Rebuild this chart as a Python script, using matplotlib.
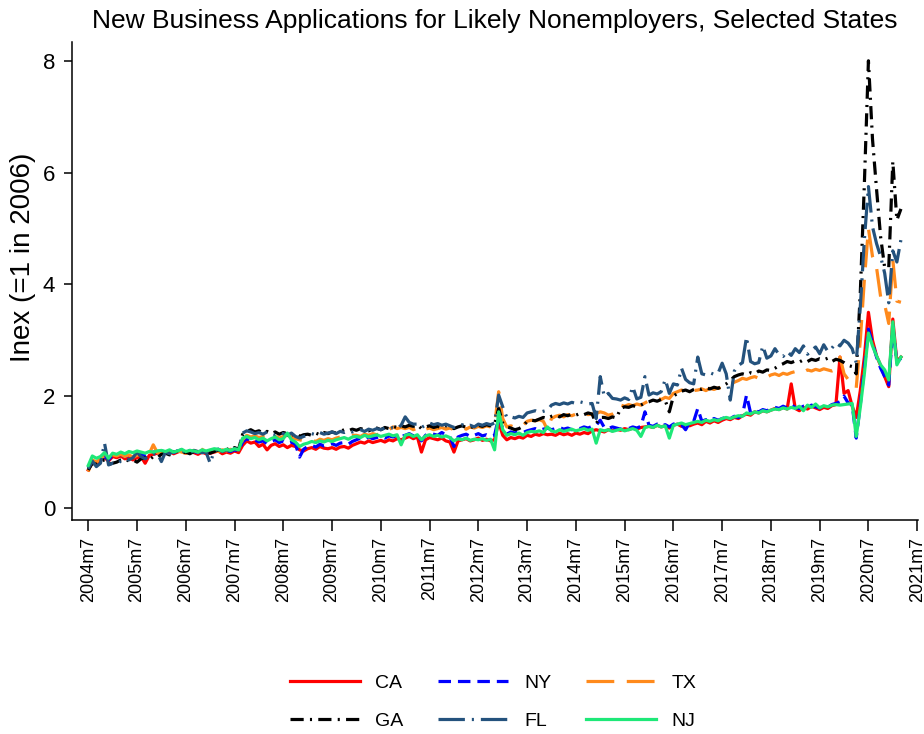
import pandas as pd
import matplotlib
matplotlib.use("Agg")
import matplotlib.pyplot as plt

# monthly index, 2004m7 .. 2021m3
months = pd.period_range("2004-07", "2021-03", freq="M")

# values (index, 2006 = 1), one row per calendar year
ca = [
    0.68, 0.82, 0.80, 0.86, 0.90, 0.84,
    0.92, 0.90, 0.93, 0.88, 0.90, 0.86, 0.90, 0.92, 0.80, 0.94, 0.96, 0.98,
    1.00, 0.98, 1.02, 0.97, 1.00, 1.03, 0.98, 1.01, 0.99, 0.96, 1.00, 0.97,
    0.98, 1.00, 1.02, 0.97, 1.00, 0.98, 1.02, 0.99, 1.12, 1.20, 1.16, 1.18,
    1.10, 1.14, 1.04, 1.12, 1.15, 1.10, 1.13, 1.08, 1.12, 1.10, 1.04, 1.02,
    1.06, 1.08, 1.05, 1.10, 1.07, 1.06, 1.08, 1.05, 1.09, 1.10, 1.07, 1.12,
    1.15, 1.18, 1.16, 1.20, 1.17, 1.19, 1.21, 1.18, 1.22, 1.20, 1.24, 1.22,
    1.25, 1.28, 1.24, 1.27, 1.00, 1.22, 1.26, 1.24, 1.22, 1.25, 1.20, 1.18,
    1.00, 1.20, 1.22, 1.24, 1.20, 1.22, 1.25, 1.21, 1.23, 1.20, 1.22, 1.54,
    1.30, 1.22, 1.26, 1.24, 1.27, 1.25, 1.30, 1.28, 1.32, 1.30, 1.33, 1.31,
    1.32, 1.30, 1.34, 1.31, 1.33, 1.30, 1.34, 1.32, 1.35, 1.33, 1.38, 1.40,
    1.38, 1.36, 1.40, 1.38, 1.41, 1.39, 1.42, 1.40, 1.43, 1.41, 1.44, 1.45,
    1.46, 1.44, 1.48, 1.45, 1.47, 1.43, 1.48, 1.50, 1.46, 1.49, 1.47, 1.50,
    1.52, 1.49, 1.55, 1.52, 1.56, 1.53, 1.57, 1.60, 1.58, 1.62, 1.60, 1.65,
    1.68, 1.66, 1.72, 1.70, 1.74, 1.72, 1.75, 1.78, 1.76, 1.80, 1.77, 2.22,
    1.78, 1.74, 1.80, 1.77, 1.82, 1.79, 1.76, 1.80, 1.78, 1.83, 1.85, 2.70,
    2.05, 2.10, 1.82, 1.62, 2.10, 2.70, 3.50, 3.00, 2.72, 2.55, 2.35, 2.17,
    3.38, 2.62, 2.70,
]
ny = [
    0.72, 0.84, 0.82, 0.88, 0.92, 0.86,
    0.95, 0.93, 0.96, 0.92, 0.94, 0.90, 0.96, 0.97, 0.93, 0.98, 1.00, 1.01,
    1.02, 1.00, 1.03, 0.99, 1.02, 1.04, 1.00, 1.03, 1.01, 0.99, 1.02, 1.00,
    1.01, 1.03, 1.05, 1.00, 1.03, 1.01, 1.04, 1.02, 1.18, 1.24, 1.20, 1.22,
    1.18, 1.20, 1.15, 1.19, 1.22, 1.17, 1.20, 1.16, 1.18, 1.14, 0.91, 1.05,
    1.10, 1.12, 1.09, 1.14, 1.11, 1.13, 1.15, 1.12, 1.16, 1.17, 1.14, 1.19,
    1.22, 1.25, 1.23, 1.27, 1.24, 1.26, 1.28, 1.25, 1.29, 1.27, 1.30, 1.28,
    1.30, 1.33, 1.29, 1.32, 1.20, 1.30, 1.34, 1.32, 1.30, 1.35, 1.31, 1.28,
    1.10, 1.27, 1.30, 1.32, 1.28, 1.30, 1.33, 1.29, 1.31, 1.28, 1.30, 1.63,
    1.42, 1.32, 1.36, 1.34, 1.37, 1.35, 1.38, 1.40, 1.42, 1.39, 1.41, 1.43,
    1.40, 1.42, 1.44, 1.41, 1.43, 1.40, 1.44, 1.42, 1.45, 1.43, 1.46, 1.48,
    1.57, 1.44, 1.42, 1.45, 1.43, 1.41, 1.44, 1.42, 1.45, 1.43, 1.46, 1.72,
    1.48, 1.46, 1.50, 1.47, 1.49, 1.45, 1.50, 1.52, 1.49, 1.40, 1.53, 1.55,
    1.78, 1.55, 1.58, 1.56, 1.60, 1.57, 1.60, 1.62, 1.60, 1.64, 1.62, 1.66,
    2.02, 1.70, 1.74, 1.72, 1.76, 1.74, 1.77, 1.80, 1.78, 1.82, 1.79, 1.84,
    1.80, 1.78, 1.82, 1.80, 1.84, 1.81, 1.79, 1.82, 1.80, 1.85, 1.87, 1.90,
    2.00, 1.88, 1.85, 1.25, 1.85, 2.50, 3.20, 2.95, 2.70, 2.50, 2.35, 2.20,
    3.25, 2.60, 2.68,
]
tx = [
    0.65, 0.86, 0.82, 0.88, 0.94, 0.86,
    0.95, 0.93, 0.96, 0.92, 0.95, 0.91, 0.94, 0.96, 0.93, 0.97, 1.13, 0.99,
    1.00, 0.98, 1.01, 0.99, 1.02, 1.00, 0.98, 1.01, 1.03, 1.00, 1.02, 1.16,
    1.00, 1.03, 1.01, 1.04, 1.02, 1.05, 1.03, 1.06, 1.22, 1.30, 1.27, 1.29,
    1.26, 1.28, 1.24, 1.27, 1.29, 1.25, 1.28, 1.30, 1.27, 1.24, 1.22, 1.20,
    1.20, 1.22, 1.19, 1.23, 1.21, 1.24, 1.22, 1.25, 1.27, 1.26, 1.28, 1.30,
    1.30, 1.28, 1.32, 1.30, 1.33, 1.31, 1.34, 1.36, 1.40, 1.45, 1.42, 1.44,
    1.42, 1.44, 1.40, 1.43, 1.38, 1.41, 1.43, 1.40, 1.42, 1.44, 1.41, 1.43,
    1.40, 1.42, 1.44, 1.41, 1.45, 1.43, 1.46, 1.44, 1.47, 1.45, 1.48, 2.08,
    1.60, 1.45, 1.47, 1.44, 1.46, 1.48, 1.55, 1.57, 1.56, 1.58, 1.55, 1.40,
    1.60, 1.64, 1.66, 1.63, 1.67, 1.65, 1.68, 1.66, 1.69, 1.67, 1.68, 1.69,
    1.72, 1.70, 1.66, 1.68, 1.72, 1.84, 1.82, 1.85, 1.83, 1.86, 1.84, 1.88,
    1.92, 1.95, 1.97, 1.94, 1.98, 1.96, 2.05, 2.08, 2.11, 2.09, 2.12, 2.10,
    2.11, 2.13, 2.10, 2.14, 2.12, 2.15, 2.13, 2.18, 2.22, 2.25, 2.28, 2.32,
    2.30, 2.33, 2.35, 2.32, 2.36, 2.34, 2.38, 2.40, 2.37, 2.41, 2.39, 2.42,
    2.44, 2.46, 2.43, 2.47, 2.45, 2.48, 2.46, 2.49, 2.47, 2.45, 2.48, 2.70,
    2.40, 2.30, 2.20, 2.15, 3.00, 4.08, 5.00, 4.50, 4.30, 3.78, 3.64, 3.30,
    4.44, 3.70, 3.68,
]
ga = [
    0.68, 0.80, 0.78, 0.84, 0.86, 0.78,
    0.80, 0.82, 0.86, 0.88, 0.84, 0.86, 0.82, 0.88, 0.90, 0.86, 0.92, 0.90,
    0.96, 0.98, 0.95, 0.99, 1.02, 0.98, 1.00, 0.97, 1.01, 1.03, 0.99, 1.02,
    0.98, 1.01, 1.04, 1.02, 1.06, 1.03, 1.08, 1.05, 1.32, 1.37, 1.40, 1.36,
    1.38, 1.34, 1.37, 1.33, 1.36, 1.32, 1.35, 1.33, 1.30, 1.34, 1.28, 1.31,
    1.32, 1.30, 1.34, 1.31, 1.35, 1.33, 1.36, 1.34, 1.37, 1.40, 1.38, 1.41,
    1.39, 1.42, 1.40, 1.38, 1.41, 1.43, 1.40, 1.44, 1.42, 1.46, 1.44, 1.47,
    1.45, 1.48, 1.46, 1.49, 1.42, 1.45, 1.47, 1.44, 1.46, 1.43, 1.47, 1.45,
    1.42, 1.45, 1.47, 1.44, 1.46, 1.43, 1.48, 1.46, 1.49, 1.47, 1.50, 1.78,
    1.52, 1.45, 1.43, 1.40, 1.42, 1.46, 1.55, 1.57, 1.56, 1.59, 1.62, 1.60,
    1.64, 1.66, 1.63, 1.67, 1.65, 1.68, 1.66, 1.69, 1.67, 1.70, 1.68, 1.51,
    1.62, 1.62, 1.60, 1.63, 1.61, 1.78, 1.81, 1.80, 1.83, 1.81, 1.84, 1.88,
    1.90, 1.93, 1.91, 1.94, 1.92, 1.72, 2.00, 2.05, 2.09, 2.11, 2.08, 2.12,
    2.14, 2.12, 2.15, 2.13, 2.16, 2.14, 2.18, 2.22, 2.28, 2.35, 2.38, 2.40,
    2.38, 2.42, 2.40, 2.45, 2.43, 2.47, 2.46, 2.50, 2.55, 2.58, 2.62, 2.60,
    2.63, 2.61, 2.65, 2.62, 2.66, 2.64, 2.67, 2.65, 2.68, 2.62, 2.66, 2.64,
    2.60, 2.55, 2.53, 2.40, 3.85, 5.80, 8.00, 6.60, 5.70, 4.85, 4.30, 4.30,
    6.20, 5.15, 5.35,
]
fl = [
    0.70, 0.84, 0.74, 0.80, 1.16, 0.77,
    0.80, 0.78, 0.84, 0.88, 0.86, 0.90, 1.00, 0.92, 0.88, 0.94, 0.96, 0.98,
    0.83, 1.00, 0.97, 1.01, 0.99, 1.02, 1.00, 0.98, 1.03, 1.01, 0.99, 1.00,
    0.80, 1.02, 1.05, 1.01, 1.04, 1.02, 1.06, 1.04, 1.34, 1.38, 1.36, 1.33,
    1.35, 1.32, 1.36, 1.34, 1.31, 1.35, 1.33, 1.30, 1.34, 1.28, 1.25, 1.28,
    1.30, 1.33, 1.31, 1.35, 1.32, 1.34, 1.36, 1.33, 1.37, 1.35, 1.38, 1.36,
    1.38, 1.40, 1.37, 1.41, 1.39, 1.42, 1.40, 1.43, 1.41, 1.44, 1.42, 1.48,
    1.63, 1.53, 1.50, 1.50, 1.44, 1.48, 1.52, 1.49, 1.51, 1.48, 1.50, 1.47,
    1.44, 1.47, 1.49, 1.46, 1.48, 1.45, 1.50, 1.48, 1.51, 1.49, 1.52, 2.02,
    1.81, 1.62, 1.63, 1.61, 1.64, 1.62, 1.70, 1.72, 1.74, 1.71, 1.73, 1.75,
    1.84, 1.87, 1.85, 1.88, 1.86, 1.89, 1.87, 1.90, 1.88, 1.86, 1.87, 1.60,
    2.35, 1.99, 2.05, 1.96, 1.95, 1.93, 1.97, 1.94, 2.17, 1.95, 1.98, 2.35,
    2.02, 2.06, 2.04, 2.08, 2.30, 2.05, 2.22, 2.20, 2.50, 2.30, 2.24, 2.22,
    2.70, 2.40, 2.38, 2.42, 2.39, 2.41, 2.59, 2.40, 1.93, 2.45, 2.55, 2.60,
    3.06, 2.62, 2.58, 2.60, 2.90, 2.68, 2.72, 2.85, 2.74, 2.71, 2.80, 2.73,
    2.85, 2.78, 2.90, 2.75, 2.82, 2.88, 2.76, 2.92, 2.80, 2.86, 2.95, 2.90,
    3.00, 2.95, 2.85, 2.60, 3.60, 4.80, 5.75, 5.03, 4.73, 4.50, 4.20, 3.67,
    4.60, 4.40, 4.80,
]
nj = [
    0.76, 0.93, 0.89, 0.92, 0.99, 0.89,
    0.98, 0.96, 1.00, 0.97, 1.01, 0.99, 1.02, 1.00, 0.98, 1.01, 1.00, 1.02,
    1.03, 1.01, 1.04, 1.00, 1.02, 1.05, 1.01, 1.03, 1.02, 1.00, 1.04, 1.02,
    1.04, 1.06, 1.05, 1.02, 1.05, 1.03, 1.06, 1.04, 1.25, 1.28, 1.24, 1.26,
    1.22, 1.25, 1.20, 1.24, 1.27, 1.22, 1.24, 1.34, 1.22, 1.18, 1.10, 1.14,
    1.16, 1.19, 1.17, 1.20, 1.18, 1.21, 1.19, 1.22, 1.24, 1.26, 1.23, 1.27,
    1.28, 1.26, 1.30, 1.27, 1.29, 1.31, 1.28, 1.30, 1.32, 1.29, 1.31, 1.13,
    1.30, 1.32, 1.28, 1.31, 1.22, 1.29, 1.31, 1.28, 1.30, 1.27, 1.29, 1.26,
    1.20, 1.24, 1.22, 1.25, 1.21, 1.23, 1.22, 1.24, 1.21, 1.23, 1.04, 1.72,
    1.40, 1.30, 1.33, 1.31, 1.34, 1.30, 1.35, 1.37, 1.36, 1.38, 1.35, 1.45,
    1.38, 1.36, 1.40, 1.37, 1.39, 1.41, 1.38, 1.40, 1.42, 1.39, 1.41, 1.16,
    1.40, 1.38, 1.40, 1.37, 1.39, 1.41, 1.38, 1.40, 1.42, 1.39, 1.28, 1.44,
    1.46, 1.44, 1.48, 1.45, 1.47, 1.25, 1.48, 1.50, 1.52, 1.49, 1.51, 1.53,
    1.55, 1.53, 1.57, 1.55, 1.58, 1.56, 1.60, 1.62, 1.60, 1.63, 1.65, 1.64,
    1.70, 1.68, 1.72, 1.70, 1.74, 1.72, 1.75, 1.77, 1.76, 1.79, 1.77, 1.80,
    1.78, 1.82, 1.74, 1.84, 1.80, 1.86, 1.79, 1.83, 1.81, 1.84, 1.85, 1.84,
    1.85, 1.86, 1.87, 1.28, 1.80, 2.40, 3.13, 2.90, 2.72, 2.56, 2.47, 2.29,
    3.33, 2.56, 2.70,
]

tick_years = list(range(2004, 2022))
tick_labels = [f"{y}m7" for y in tick_years]

df = pd.DataFrame({"CA": ca, "NY": ny, "TX": tx, "GA": ga, "FL": fl, "NJ": nj},
                  index=months)
# months since 2004m7 as x
x = [(p.year - 2004) * 12 + p.month - 7 for p in df.index]
tick_pos = [(y - 2004) * 12 for y in tick_years]

styles = {
    "CA": dict(color="#ff0000", linestyle="-"),
    "NY": dict(color="#0000ff", linestyle=(0, (9, 5))),
    "TX": dict(color="#ff8a1c", linestyle=(0, (20, 9))),
    "GA": dict(color="#000000", linestyle=(0, (9.5, 4.5, 1.5, 4.5))),
    "FL": dict(color="#24527d", linestyle=(0, (19, 5, 1.5, 5))),
    "NJ": dict(color="#1ee878", linestyle="-"),
}

plt.rcParams["font.family"] = ["Liberation Sans", "DejaVu Sans"]
plt.rcParams["lines.scale_dashes"] = False

fig = plt.figure(figsize=(9.24, 7.34), dpi=100)
ax = fig.add_axes([72 / 924, 1 - 520 / 734, 846 / 924, 478 / 734])

lines = {}
for state in ["CA", "NY", "TX", "GA", "FL", "NJ"]:
    (ln,) = ax.plot(x, df[state], lw=2.3, label=state, **styles[state])
    lines[state] = ln

ax.set_xlim(-4, 204.2)
ax.set_ylim(-0.215, 8.336)
ax.set_yticks([0, 2, 4, 6, 8])
ax.set_xticks(tick_pos)
ax.set_xticklabels(tick_labels, rotation=90, fontsize=13)
ax.tick_params(axis="y", labelsize=16, length=6, width=1.1, pad=6)
ax.tick_params(axis="x", length=8, width=1.1, pad=4)
for side in ["top", "right"]:
    ax.spines[side].set_visible(False)
for side in ["left", "bottom"]:
    ax.spines[side].set_linewidth(1.1)

ax.set_ylabel("Inex (=1 in 2006)", fontsize=20)
ax.yaxis.set_label_coords(-0.042, 0.55)
ax.set_title("New Business Applications for Likely Nonemployers, Selected States",
             fontsize=19, pad=10)

order = ["CA", "GA", "NY", "FL", "TX", "NJ"]
fig.legend([lines[s] for s in order], order, ncol=3, loc="center",
           bbox_to_anchor=(493 / 924, 1 - 702 / 734), frameon=False,
           fontsize=14, handlelength=3.6, handletextpad=0.8,
           columnspacing=1.8, labelspacing=1.05)

fig.savefig("out.png", dpi=100, facecolor="white")
